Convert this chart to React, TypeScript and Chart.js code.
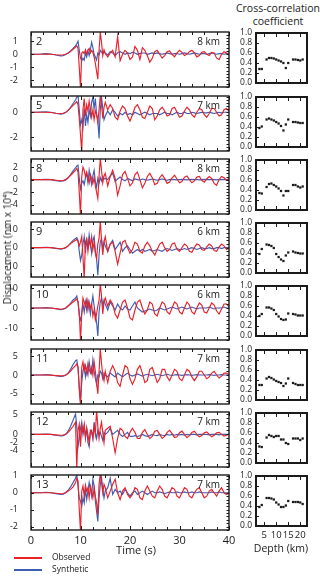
import React, { useEffect, useRef } from "react";
import { Chart, registerables } from "chart.js";

Chart.register(...registerables);

const FONT = "'Open Sans', 'Noto Sans', 'DejaVu Sans', sans-serif";
const RED = "#e8212b";
const BLUE = "#3d5db3";
const INK = "#1a1a1a";

// ---------- data ----------
const TIME = [
  0, 1, 2, 3, 4, 5, 6, 6.5, 7, 7.5, 8, 8.5, 9,
  9.25, 9.5, 9.75, 10, 10.25, 10.5, 10.75, 11, 11.25, 11.5, 11.75, 12,
  12.25, 12.5, 12.75, 13, 13.25, 13.5, 13.75, 14, 14.25, 14.5, 14.75, 15,
  15.5, 16, 16.5, 17, 17.5, 18, 18.5, 19, 19.5, 20,
  20.5, 21, 21.5, 22, 22.5, 23, 23.5, 24, 24.5, 25,
  25.5, 26, 26.5, 27, 27.5, 28, 28.5, 29, 29.5, 30,
  30.5, 31, 31.5, 32, 32.5, 33, 33.5, 34, 34.5, 35,
  35.5, 36, 36.5, 37, 37.5, 38, 38.5, 39, 39.5, 40,
];

const obs2 = [
  0, 0, 0, 0.02, 0, -0.04, -0.06, -0.04, 0, 0.1, 0.22, 0.38, 0.55,
  0.65, 0.45, -1.0, -2.6, 0.1, 0.2, 0.05, 0.35, 0.0, 0.3, 0.45, 0.1,
  0.3, 0.15, -0.2, -0.7, -1.3, -1.9, 0.3, 1.7, 0.9, -0.1, 0.35, 0.05,
  -0.2, 0.1, 0.3, -0.2, 1.35, -0.5, 0.0, 0.3, 0.1, -0.4,
  -0.2, 0.6, 0.3, -0.4, 0.5, 0.3, -0.1, -0.6, -0.3, 0.2,
  0.3, 0.0, -0.3, -0.1, 0.2, 0.25, 0.0, -0.2, 0.1, 0.3,
  0.15, -0.1, 0.0, 0.2, 0.3, 0.1, -0.2, -0.1, 0.15, 0.2,
  0.0, -0.1, 0.15, 0.1, -0.3, -0.4, 0.0, 0.2, 0.1, 0.0,
];
const syn2 = [
  0, 0, 0.02, 0.05, 0.02, -0.06, -0.12, -0.1, -0.02, 0.1, 0.25, 0.45, 0.65,
  0.8, 1.0, 0.3, -0.3, -0.5, -0.3, -0.45, 0.1, -0.2, 0.25, -0.1, 0.35,
  0.9, 0.5, 0.0, -0.2, -0.45, 0.1, -0.05, 0.3, 0.15, 0.05, 0.2, 0.1,
  -0.05, 0.2, 0.1, -0.1, 0.1, 0.2, 0.1, 0.0, 0.1, 0.05,
  0.15, 0.1, 0.0, 0.05, 0.1, 0.1, 0.0, 0.05, 0.1, 0.05,
  0.1, 0.05, 0.0, 0.05, 0.1, 0.05, 0.0, 0.05, 0.05, 0.0,
  0.05, 0.1, 0.05, 0.0, 0.05, 0.1, 0.05, 0.0, 0.05, 0.05,
  0.0, 0.05, 0.1, 0.05, 0.0, 0.05, 0.05, 0.0, 0.05, 0.05,
];

const obs5 = [
  0, 0, 0, 0, -0.02, -0.08, -0.12, -0.08, 0, 0.15, 0.35, 0.55, 0.75,
  0.85, 0.6, -0.5, -1.8, -3.2, 0.2, 1.1, -0.3, 0.6, 0.1, 0.9, 0.3,
  -0.4, 0.2, -0.6, 0.1, -0.2, -0.8, 0.2, 1.3, 0.6, -0.5, 0.4, 0.8,
  0.2, 0.6, 0.3, -0.4, -0.6, 0.1, 0.5, 0.3, -0.3, -0.7,
  -0.2, 0.4, 0.6, 0.2, -0.4, -0.5, 0.0, 0.5, 0.3, -0.6,
  -0.3, 0.2, 0.4, 0.1, -0.3, -0.2, 0.3, 0.4, 0.0, -0.4,
  -0.3, 0.1, 0.4, 0.2, -0.2, -0.4, 0.0, 0.3, 0.2, -0.2,
  -0.4, -0.1, 0.3, 0.3, 0.0, -0.3, -0.2, 0.2, 0.3, 0.1,
];
const syn5 = [
  0, 0, 0.02, 0.03, 0, -0.08, -0.15, -0.12, -0.03, 0.15, 0.4, 0.7, 1.0,
  1.2, 1.35, 0.2, -1.0, -0.6, -1.2, 0.3, -1.1, -0.2, -0.8, 0.2, -0.3,
  0.8, 1.2, 0.3, 1.1, -0.2, -0.6, -2.1, 0.2, 1.2, 0.3, -0.6, -0.3,
  0.1, -0.2, 0.2, 0.0, -0.3, -0.1, -0.2, 0.0, -0.2, -0.1,
  -0.2, 0.0, -0.1, -0.2, -0.1, 0.0, -0.1, -0.2, -0.1, -0.1,
  -0.1, -0.2, -0.1, 0.0, -0.1, -0.1, -0.2, -0.1, 0.0, -0.1,
  -0.1, 0.0, -0.1, -0.1, 0.0, -0.05, -0.1, -0.05, 0.0, -0.05,
  -0.05, 0.0, -0.05, -0.1, -0.05, 0.0, -0.05, 0.0, 0.0, 0.0,
];

const obs8 = [
  0, 0, 0, 0, 0, -0.1, -0.2, -0.15, 0, 0.3, 0.7, 1.1, 1.5,
  1.8, 1.2, -2.0, -5.8, 0.5, 2.0, 1.5, 0.5, 1.2, 0.3, -0.5, 0.8,
  0.2, -0.6, 0.3, -1.0, -2.0, -3.0, 0.5, 3.4, 1.5, -0.5, 0.6, 1.0,
  -1.0, 0.5, 1.5, 0.2, -2.5, -1.0, 0.8, 1.3, 0.2, -1.0,
  -0.5, 0.8, 1.2, 0.0, -1.3, -0.6, 0.5, 1.0, 0.3, -0.8,
  -0.6, 0.3, 0.8, 0.2, -0.6, -0.4, 0.3, 0.7, 0.1, -0.5,
  -0.3, 0.4, 0.6, 0.0, -0.5, -0.2, 0.4, 0.5, -0.1, -0.4,
  0.1, 0.5, 0.2, -0.6, -0.9, 0.0, 0.5, 0.3, -0.1, 0.2,
];
const syn8 = [
  0, 0, 0, 0.05, 0, -0.15, -0.25, -0.2, -0.05, 0.3, 0.8, 1.4, 1.9,
  2.2, 2.3, 0.2, -1.5, -0.5, -0.2, -0.8, 0.3, 1.0, -0.5, 1.5, 0.2,
  -0.8, 0.6, 1.5, -0.3, -1.2, 0.2, -0.5, 0.3, -0.2, 0.5, 0.1, 0.2,
  0.0, 0.6, 1.0, -0.3, 0.1, 0.4, 0.0, -0.2, 0.2, 0.0,
  -0.2, 0.1, 0.0, -0.1, 0.1, 0.0, -0.1, 0.0, 0.1, 0.0,
  -0.1, 0.0, 0.1, 0.0, -0.1, 0.0, 0.05, 0.0, -0.05, 0.0,
  0.05, 0.0, -0.05, 0.0, 0.05, 0.0, 0.0, -0.05, 0.0, 0.05,
  0.0, 0.0, 0.05, 0.0, -0.05, 0.0, 0.0, 0.05, 0.0, 0.0,
];

const obs9 = [
  0, 0, 0, 0, 0, -0.3, -0.6, -0.4, 0, 1.0, 2.2, 3.2, 4.0,
  4.5, 3.5, 1.0, 3.0, 6.0, -5.0, -17, 3.0, 5.0, -2.0, 4.0, 1.0,
  6.0, -1.0, 3.0, -3.0, -6.0, 2.0, 5.0, 14.5, 4.0, -4.0, 3.0, 6.0,
  -2.0, 2.0, 3.0, -2.0, -9.0, -3.0, 3.0, 4.0, 0.0, -3.0,
  -1.0, 3.0, 2.0, -2.0, -3.0, 1.0, 3.0, 1.0, -2.0, -4.0,
  -1.0, 2.0, 3.0, 0.0, -2.0, -1.0, 2.0, 2.5, -1.0, -2.0,
  0.0, 2.0, 1.0, -2.0, -2.5, 0.0, 2.0, 1.5, -1.0, -1.5,
  0.5, 2.0, 1.0, -1.5, -2.0, 0.5, 2.0, 1.0, -1.0, 0.0,
];
const syn9 = [
  0, 0, 0, 0.2, 0, -0.4, -0.8, -0.6, -0.1, 1.0, 2.5, 4.0, 5.0,
  5.5, 4.0, -2.0, -7.0, -4.0, 2.0, 6.0, -3.0, 5.0, -1.0, 7.0, 2.0,
  -3.0, 4.0, 6.0, -2.0, -6.0, -15.0, -4.0, 3.0, 5.0, -1.0, 3.0, 1.0,
  -2.0, 2.0, 4.0, -1.0, 1.0, 3.0, -2.0, 0.0, 1.0, -1.0,
  -3.0, -2.0, -1.0, -2.0, -1.0, -2.0, -1.5, -1.0, -2.0, -1.5,
  -1.0, -1.5, -2.0, -1.0, -0.5, -1.0, -1.5, -1.0, -0.5, -1.0,
  -1.0, -0.5, -1.0, -0.5, 0.0, -0.5, -1.0, -0.5, 0.0, -0.5,
  -0.5, 0.0, -0.5, -0.5, 0.0, 0.0, -0.5, 0.0, 0.0, 0.0,
];

const obs10 = [
  0, 0, 0, 0, 0, -0.3, -0.6, -0.4, 0, 1.0, 2.0, 3.0, 4.0,
  4.5, 3.0, -2.0, -16.5, -3.0, 5.0, 3.0, 1.0, 4.0, -1.0, 3.0, 0.0,
  2.0, -4.0, -1.0, -6.0, -3.0, 1.0, 4.0, 12.0, 6.0, -3.0, 3.0, 5.0,
  1.0, 4.0, 2.0, -3.0, -5.0, -1.0, 3.0, 4.0, 0.0, -5.0,
  -6.0, -1.0, 3.0, 4.0, 0.0, -3.0, -1.0, 3.0, 2.0, -3.0,
  -4.0, 0.0, 3.0, 2.0, -2.0, -3.0, 0.0, 3.0, 2.0, -2.0,
  -3.0, 0.0, 3.0, 1.5, -2.0, -3.0, 0.0, 2.5, 1.5, -2.0,
  -2.5, 0.0, 2.5, 1.5, -1.5, -3.0, -0.5, 2.0, 2.0, 0.5,
];
const syn10 = [
  0, 0, 0, 0.2, 0, -0.4, -0.8, -0.6, -0.1, 1.0, 2.5, 4.0, 5.0,
  6.0, 3.0, -4.0, -6.0, -3.0, 2.0, -2.0, 3.0, -1.0, 4.0, 1.0, -3.0,
  2.0, 6.0, 1.0, -3.0, -7.0, -14.0, -2.0, 3.0, 5.0, 1.0, 4.0, 2.0,
  -1.0, 3.0, 1.0, -1.0, 2.0, 0.0, -1.0, 1.0, -0.5, -1.0,
  1.0, 3.0, 0.0, -1.0, -2.0, -1.5, -1.0, -0.5, -1.0, -1.5,
  -1.0, 0.0, -0.5, -1.0, -0.5, 0.0, 0.5, 0.0, -0.5, 0.0,
  0.5, 0.0, -0.5, 0.0, 0.5, 0.0, -0.5, 0.0, 0.0, 0.0,
  0.0, 0.5, 0.0, -0.5, 0.0, 0.0, 0.0, 0.5, 0.0, 0.0,
];

const obs11 = [
  0, 0, 0, 0, -0.05, -0.15, -0.25, -0.2, 0, 0.4, 1.0, 1.8, 2.5,
  3.0, 2.0, -4.0, -8.0, 2.0, 3.5, 1.0, 2.5, 0.5, 3.0, 1.5, 0.5,
  2.0, 0.0, 3.5, 1.0, -2.0, -5.0, 1.0, 7.0, 3.0, 0.0, -1.5, 1.0,
  -2.0, 1.0, 2.5, 1.0, -2.0, -3.0, 0.0, 2.5, 2.0, -1.0,
  -2.5, -1.0, 1.5, 2.5, 0.5, -2.0, -1.5, 1.5, 2.0, 0.0,
  -2.0, -1.0, 1.5, 1.5, -0.5, -1.5, 0.0, 1.5, 1.0, -1.0,
  -1.5, 0.0, 1.5, 1.0, -0.5, -1.5, -0.5, 1.0, 1.0, 0.0,
  -1.0, -0.5, 0.5, 1.0, 0.0, -0.8, -0.3, 0.5, 0.5, 0.0,
];
const syn11 = [
  0, 0, 0, 0.1, 0, -0.2, -0.35, -0.3, -0.05, 0.5, 1.5, 2.8, 3.8,
  4.0, 2.0, -3.0, -7.0, -2.0, 1.0, 2.5, -0.5, 1.5, 0.0, 3.5, 1.5,
  0.5, 4.0, 1.0, -1.0, -2.5, 0.0, -0.5, 1.0, 0.5, -1.0, 0.5, 0.0,
  -0.5, 0.5, 0.0, -0.5, 0.5, 0.0, -0.5, 0.0, 0.5, 0.0,
  -0.3, 0.0, 0.3, 0.0, -0.3, 0.0, 0.2, 0.0, -0.2, 0.0,
  0.2, 0.0, -0.2, 0.0, 0.2, 0.0, -0.1, 0.0, 0.1, 0.0,
  -0.1, 0.0, 0.1, 0.0, -0.1, 0.0, 0.1, 0.0, 0.0, 0.0,
  0.0, 0.1, 0.0, -0.1, 0.0, 0.0, 0.1, 0.0, 0.0, 0.0,
];

const obs12 = [
  0, 0, 0, 0, 0, -0.1, -0.2, -0.15, 0, 0.5, 1.2, 2.0, 3.0,
  -8.5, 1.0, 2.5, -3.0, 2.0, 0.5, 2.5, -1.0, 1.5, 0.0, -2.0, 1.0,
  0.5, -1.0, 2.0, 0.0, 6.0, 2.0, -1.0, 1.5, 3.0, 0.5, -2.0, 1.0,
  1.5, 2.0, -1.0, -4.5, -1.0, 1.5, 1.0, -0.5, -1.0, 0.5,
  1.5, 0.5, -1.0, -1.0, 0.5, 1.2, 0.0, -1.0, -0.5, 0.8,
  1.0, 0.0, -1.0, -0.5, 0.5, 1.0, 0.2, -0.8, -0.6, 0.4,
  0.8, 0.0, -0.8, -0.3, 0.5, 0.8, 0.0, -0.6, -0.3, 0.4,
  0.6, 0.0, -0.6, -0.2, 0.4, 0.5, 0.0, -0.4, -0.2, 0.0,
];
const syn12 = [
  0, 0, 0, 0.1, 0, -0.2, -0.4, -0.3, 0, 0.8, 2.0, 3.5, 5.0,
  2.0, -3.0, -1.0, 1.5, 3.0, 0.0, 2.0, -0.5, 1.5, -2.0, -3.0, 0.5,
  1.0, -1.0, 3.0, 0.5, -1.0, 1.0, 0.0, 0.5, -0.5, -1.5, 0.5, 0.0,
  0.5, 1.5, 0.0, 0.5, 1.0, 0.0, -0.5, 0.0, 0.5, -0.5,
  -0.5, -0.3, -0.5, -0.3, 0.0, -0.3, -0.5, -0.3, 0.0, -0.2,
  -0.3, 0.0, -0.2, -0.3, 0.0, -0.2, 0.0, -0.2, 0.0, -0.1,
  0.0, -0.2, 0.0, -0.1, 0.0, 0.0, -0.1, 0.0, 0.0, 0.0,
  0.0, -0.1, 0.0, 0.0, 0.0, -0.1, 0.0, 0.0, 0.0, 0.0,
];

const obs13 = [
  0, 0, 0, 0, 0, -0.03, -0.06, -0.05, 0, 0.1, 0.2, 0.35, 0.6,
  0.85, 0.7, -1.0, -2.3, 0.1, 0.4, -0.2, 0.45, 0.1, 0.3, -0.3, 0.4,
  0.1, -0.3, 0.3, -0.2, -0.6, -1.3, 0.5, 1.1, 0.6, 0.0, 0.5, 0.3,
  -0.3, 0.1, 0.5, 0.8, 0.0, -0.4, 0.1, 0.3, -0.1, -0.3,
  -0.1, 0.3, 0.2, -0.3, -0.4, 0.1, 0.4, 0.1, -0.2, -0.3,
  0.1, 0.4, 0.2, -0.2, -0.3, 0.0, 0.3, 0.2, -0.2, -0.3,
  0.0, 0.3, 0.2, -0.2, -0.3, 0.0, 0.2, 0.3, 0.0, -0.3,
  -0.2, 0.1, 0.2, 0.0, -0.2, 0.1, 0.3, 0.0, -0.1, 0.0,
];
const syn13 = [
  0, 0, 0, 0.03, 0, -0.05, -0.1, -0.08, 0, 0.15, 0.35, 0.6, 0.85,
  1.1, 0.4, -0.3, -0.5, -0.8, -0.3, -0.6, 0.2, -0.4, 0.1, 0.6, 0.2,
  -0.2, 0.8, 0.4, -0.5, -1.1, -1.7, -0.3, 0.5, 0.9, 0.2, -0.3, 0.1,
  0.3, 0.85, -0.1, 0.2, 0.0, 0.1, -0.1, 0.2, 0.0, -0.2,
  0.0, 0.1, -0.1, 0.0, 0.1, 0.0, -0.1, 0.0, 0.1, 0.0,
  0.0, 0.05, 0.0, -0.05, 0.0, 0.05, 0.0, 0.0, 0.05, 0.0,
  0.0, 0.05, 0.0, 0.0, 0.05, 0.0, 0.0, 0.05, 0.0, 0.0,
  0.0, 0.0, 0.05, 0.0, 0.0, 0.05, 0.0, 0.0, 0.0, 0.0,
];

const DEPTHS = [3, 4, 5, 6, 7, 8, 9, 10, 11, 12, 13, 14, 15, 16, 17, 18, 19, 20, 21];
const cc2 = [0.28, 0.28, null, 0.47, 0.5, 0.5, 0.49, 0.47, 0.45, 0.43, 0.4, 0.3, 0.4, null, 0.47, 0.47, 0.46, 0.45, 0.47];
const cc5 = [0.38, 0.41, null, 0.55, 0.57, 0.55, 0.53, 0.5, 0.47, 0.42, 0.33, 0.45, 0.55, null, 0.5, 0.5, 0.49, 0.48, 0.48];
const cc8 = [0.34, 0.33, null, 0.46, 0.52, 0.53, 0.5, 0.47, 0.43, 0.38, 0.29, 0.38, 0.38, null, 0.5, 0.5, 0.47, 0.45, 0.47];
const cc9 = [0.38, 0.48, null, 0.57, 0.56, 0.54, 0.5, 0.38, 0.32, 0.27, 0.24, 0.35, 0.41, null, 0.43, 0.41, 0.4, 0.39, 0.39];
const cc10 = [0.4, 0.44, null, 0.57, 0.57, 0.55, 0.52, 0.44, 0.39, 0.34, 0.32, 0.33, 0.45, null, 0.44, 0.43, 0.41, 0.41, 0.41];
const cc11 = [0.3, 0.3, null, 0.43, 0.46, 0.44, 0.41, 0.38, 0.36, 0.34, 0.28, 0.33, 0.43, null, 0.34, 0.32, 0.3, 0.3, 0.3];
const cc12 = [0.33, 0.32, null, 0.51, 0.56, 0.54, 0.52, 0.54, 0.54, 0.47, 0.47, 0.4, 0.38, null, 0.49, 0.49, 0.49, 0.46, 0.49];
const cc13 = [0.38, 0.42, null, 0.56, 0.56, 0.55, 0.53, 0.47, 0.43, 0.38, 0.38, 0.41, 0.5, null, 0.48, 0.48, 0.48, 0.47, 0.44];

const STATIONS = ["2", "5", "8", "9", "10", "11", "12", "13"];
const BEST_DEPTH = ["8 km", "7 km", "8 km", "6 km", "6 km", "7 km", "7 km", "7 km"];
const OBS = [obs2, obs5, obs8, obs9, obs10, obs11, obs12, obs13];
const SYN = [syn2, syn5, syn8, syn9, syn10, syn11, syn12, syn13];
const CC = [cc2, cc5, cc8, cc9, cc10, cc11, cc12, cc13];

const Y_TICKS = [[1, 0, -1, -2], [0, -2], [2, 0, -2, -4], [10, 0, -10], [10, 0, -10], [5, 0, -5], [5, 0, -2, -4], [1, 0, -1, -2]];
const Y_RANGES = [[-2.5, 1.7], [-3.1, 1.3], [-5.5, 3.3], [-16, 14], [-16, 11.5], [-7.7, 6.9], [-8, 5.5], [-2.2, 1.05]];
const Y_MINOR = [0.25, 0.25, 0.5, 2, 2, 1, 1, 0.2];
const TIME_TICKS = [0, 10, 20, 30, 40];
const CC_TICKS = [0, 0.2, 0.4, 0.6, 0.8, 1.0];
const DEPTH_TICKS = [5, 10, 15, 20];

// ---------- layout ----------
const PANEL_TOPS = [32, 96, 159, 222, 285, 349, 412, 475];
const PANEL_H = 55;
const CC_H = 50;

function framePlugin(o: { xMinorStep: number; xMajor: number[]; yMajor: number[]; yRightStep: number; lw: number }) {
  return {
    id: "frame",
    afterDraw(chart: any) {
      const { ctx, chartArea: a, scales } = chart;
      const x = scales.x;
      const y = scales.y;
      ctx.save();
      ctx.strokeStyle = INK;
      ctx.lineWidth = 1;
      ctx.beginPath();
      if (o.xMinorStep > 0) {
        for (let v = x.min; v <= x.max + 1e-9; v += o.xMinorStep) {
          const px = Math.round(x.getPixelForValue(v)) + 0.5;
          ctx.moveTo(px, a.bottom); ctx.lineTo(px, a.bottom - 3);
          ctx.moveTo(px, a.top); ctx.lineTo(px, a.top + 3);
        }
      }
      for (const v of o.xMajor) {
        const px = Math.round(x.getPixelForValue(v)) + 0.5;
        ctx.moveTo(px, a.bottom); ctx.lineTo(px, a.bottom - 4);
        ctx.moveTo(px, a.top); ctx.lineTo(px, a.top + 4);
      }
      for (const v of o.yMajor) {
        const py = Math.round(y.getPixelForValue(v)) + 0.5;
        ctx.moveTo(a.left, py); ctx.lineTo(a.left + 3, py);
      }
      if (o.yRightStep > 0) {
        const start = Math.ceil(y.min / o.yRightStep) * o.yRightStep;
        for (let v = start; v <= y.max + 1e-9; v += o.yRightStep) {
          const py = Math.round(y.getPixelForValue(v)) + 0.5;
          ctx.moveTo(a.right, py); ctx.lineTo(a.right - 2.5, py);
        }
      }
      ctx.stroke();
      ctx.lineWidth = o.lw;
      ctx.strokeRect(a.left, a.top, a.right - a.left, a.bottom - a.top);
      ctx.restore();
    },
  };
}

function toPts(xs: number[], ys: (number | null)[]) {
  const out: { x: number; y: number }[] = [];
  const n = Math.min(xs.length, ys.length);
  for (let k = 0; k < n; k++) if (ys[k] !== null && ys[k] !== undefined) out.push({ x: xs[k], y: ys[k] as number });
  return out;
}

function fixX(h: number) {
  return (s: any) => { s.height = h; s.paddingLeft = 0; s.paddingRight = 0; };
}
function fixY(w: number) {
  return (s: any) => { s.width = w; s.paddingTop = 0; s.paddingBottom = 0; };
}

function WavePanel({ i }: { i: number }) {
  const ref = useRef<HTMLCanvasElement>(null);
  const isLast = i === STATIONS.length - 1;
  const W = 236;
  const padTop = 5;
  const bottomH = isLast ? 24 : 5;
  const H = padTop + PANEL_H + bottomH;
  useEffect(() => {
    const [ymin, ymax] = Y_RANGES[i];
    const chart = new Chart(ref.current as HTMLCanvasElement, {
      type: "line",
      data: {
        datasets: [
          { label: "Observed", data: toPts(TIME, OBS[i]), borderColor: RED, borderWidth: 1.15, pointRadius: 0, tension: 0, fill: false },
          { label: "Synthetic", data: toPts(TIME, SYN[i]), borderColor: BLUE, borderWidth: 1.15, pointRadius: 0, tension: 0, fill: false },
        ],
      },
      options: {
        animation: false,
        responsive: false,
        devicePixelRatio: 1,
        events: [],
        layout: { autoPadding: false, padding: { top: padTop, right: 7, left: 0, bottom: 0 } },
        plugins: { legend: { display: false }, tooltip: { enabled: false } },
        scales: {
          x: {
            type: "linear", min: 0, max: 40,
            grid: { display: false, drawTicks: false }, border: { display: false },
            afterBuildTicks: (s: any) => { s.ticks = TIME_TICKS.map((v) => ({ value: v })); },
            ticks: { display: isLast, autoSkip: false, maxRotation: 0, padding: 4, color: INK, font: { family: FONT, size: 11 } },
            afterFit: fixX(bottomH),
          },
          y: {
            type: "linear", min: ymin, max: ymax,
            grid: { display: false, drawTicks: false }, border: { display: false },
            afterBuildTicks: (s: any) => { s.ticks = Y_TICKS[i].map((v) => ({ value: v })); },
            ticks: { autoSkip: false, padding: 13, color: INK, font: { family: FONT, size: 9 }, callback: (v: any) => String(v) },
            afterFit: fixY(31),
          },
        },
      } as any,
      plugins: [framePlugin({ xMinorStep: 2.5, xMajor: TIME_TICKS, yMajor: Y_TICKS[i], yRightStep: Y_MINOR[i], lw: 1.4 })],
    });
    return () => chart.destroy();
  }, []);
  return (
    <canvas ref={ref} width={W} height={H}
      style={{ position: "absolute", left: 0, top: PANEL_TOPS[i] - padTop, width: W, height: H }} />
  );
}

function CcPanel({ i }: { i: number }) {
  const ref = useRef<HTMLCanvasElement>(null);
  const isLast = i === STATIONS.length - 1;
  const L = 222;
  const W = 90;
  const padTop = 5;
  const bottomH = isLast ? 20 : 5;
  const H = padTop + CC_H + bottomH;
  const top = PANEL_TOPS[i] + 1;
  useEffect(() => {
    const chart = new Chart(ref.current as HTMLCanvasElement, {
      type: "scatter",
      data: {
        datasets: [
          { label: "Cross-correlation coefficient", data: toPts(DEPTHS, CC[i]), pointRadius: 1.6, pointStyle: "rect", backgroundColor: INK, borderWidth: 0 },
        ],
      },
      options: {
        animation: false,
        responsive: false,
        devicePixelRatio: 1,
        events: [],
        layout: { autoPadding: false, padding: { top: padTop, right: 5, left: 0, bottom: 0 } },
        plugins: { legend: { display: false }, tooltip: { enabled: false } },
        scales: {
          x: {
            type: "linear", min: 1.6, max: 22.8,
            grid: { display: false, drawTicks: false }, border: { display: false },
            afterBuildTicks: (s: any) => { s.ticks = DEPTH_TICKS.map((v) => ({ value: v })); },
            ticks: { display: isLast, autoSkip: false, maxRotation: 0, padding: 4, color: INK, font: { family: FONT, size: 9.5 } },
            afterFit: fixX(bottomH),
          },
          y: {
            type: "linear", min: 0, max: 1,
            grid: { display: false, drawTicks: false }, border: { display: false },
            afterBuildTicks: (s: any) => { s.ticks = CC_TICKS.map((v) => ({ value: v })); },
            ticks: { autoSkip: false, padding: 4, color: INK, font: { family: FONT, size: 8.5 }, callback: (v: any) => Number(v).toFixed(1) },
            afterFit: fixY(34),
          },
        },
      } as any,
      plugins: [framePlugin({ xMinorStep: 0, xMajor: DEPTH_TICKS, yMajor: CC_TICKS, yRightStep: 0, lw: 2 })],
    });
    return () => chart.destroy();
  }, []);
  return (
    <canvas ref={ref} width={W} height={H}
      style={{ position: "absolute", left: L, top: top - padTop, width: W, height: H }} />
  );
}

function Txt(p: { x: number; y: number; size: number; align?: "left" | "center" | "right"; children: React.ReactNode }) {
  const tx = p.align === "center" ? "-50%" : p.align === "right" ? "-100%" : "0";
  return (
    <div style={{
      position: "absolute", left: p.x, top: p.y - 0.53 * p.size, fontSize: p.size, lineHeight: `${p.size}px`,
      whiteSpace: "nowrap", transform: `translateX(${tx})`, fontFamily: FONT, color: INK,
    }}>{p.children}</div>
  );
}

export default function App() {
  return (
    <div style={{ position: "absolute", left: 0, top: 0, width: 320, height: 578, background: "#fff", overflow: "hidden", fontFamily: FONT, color: INK }}>
      <Txt x={278} y={9} size={10.5} align="center">Cross-correlation</Txt>
      <Txt x={278} y={22} size={10.5} align="center">coefficient</Txt>
      {STATIONS.map((_, i) => <WavePanel key={"w" + i} i={i} />)}
      {STATIONS.map((_, i) => <CcPanel key={"c" + i} i={i} />)}
      {STATIONS.map((s, i) => <Txt key={"s" + i} x={36} y={PANEL_TOPS[i] + 9} size={11}>{s}</Txt>)}
      {BEST_DEPTH.map((d, i) => <Txt key={"d" + i} x={220} y={PANEL_TOPS[i] + 9} size={10} align="right">{d}</Txt>)}
      <div style={{
        position: "absolute", left: 7, top: 248, transform: "translate(-50%, -50%) rotate(-90deg)",
        whiteSpace: "nowrap", fontSize: 10, lineHeight: "10px", fontFamily: FONT, color: INK,
      }}>Displacement (nm x 10⁴)</div>
      <Txt x={136} y={550} size={11} align="center">Time (s)</Txt>
      <Txt x={281} y={549} size={10.5} align="center">Depth (km)</Txt>
      <div style={{ position: "absolute", left: 14, top: 557, width: 28, height: 1.5, background: RED }} />
      <Txt x={52} y={557.5} size={8.5}>Observed</Txt>
      <div style={{ position: "absolute", left: 14, top: 569, width: 28, height: 1.5, background: BLUE }} />
      <Txt x={52} y={569.5} size={8.5}>Synthetic</Txt>
    </div>
  );
}
